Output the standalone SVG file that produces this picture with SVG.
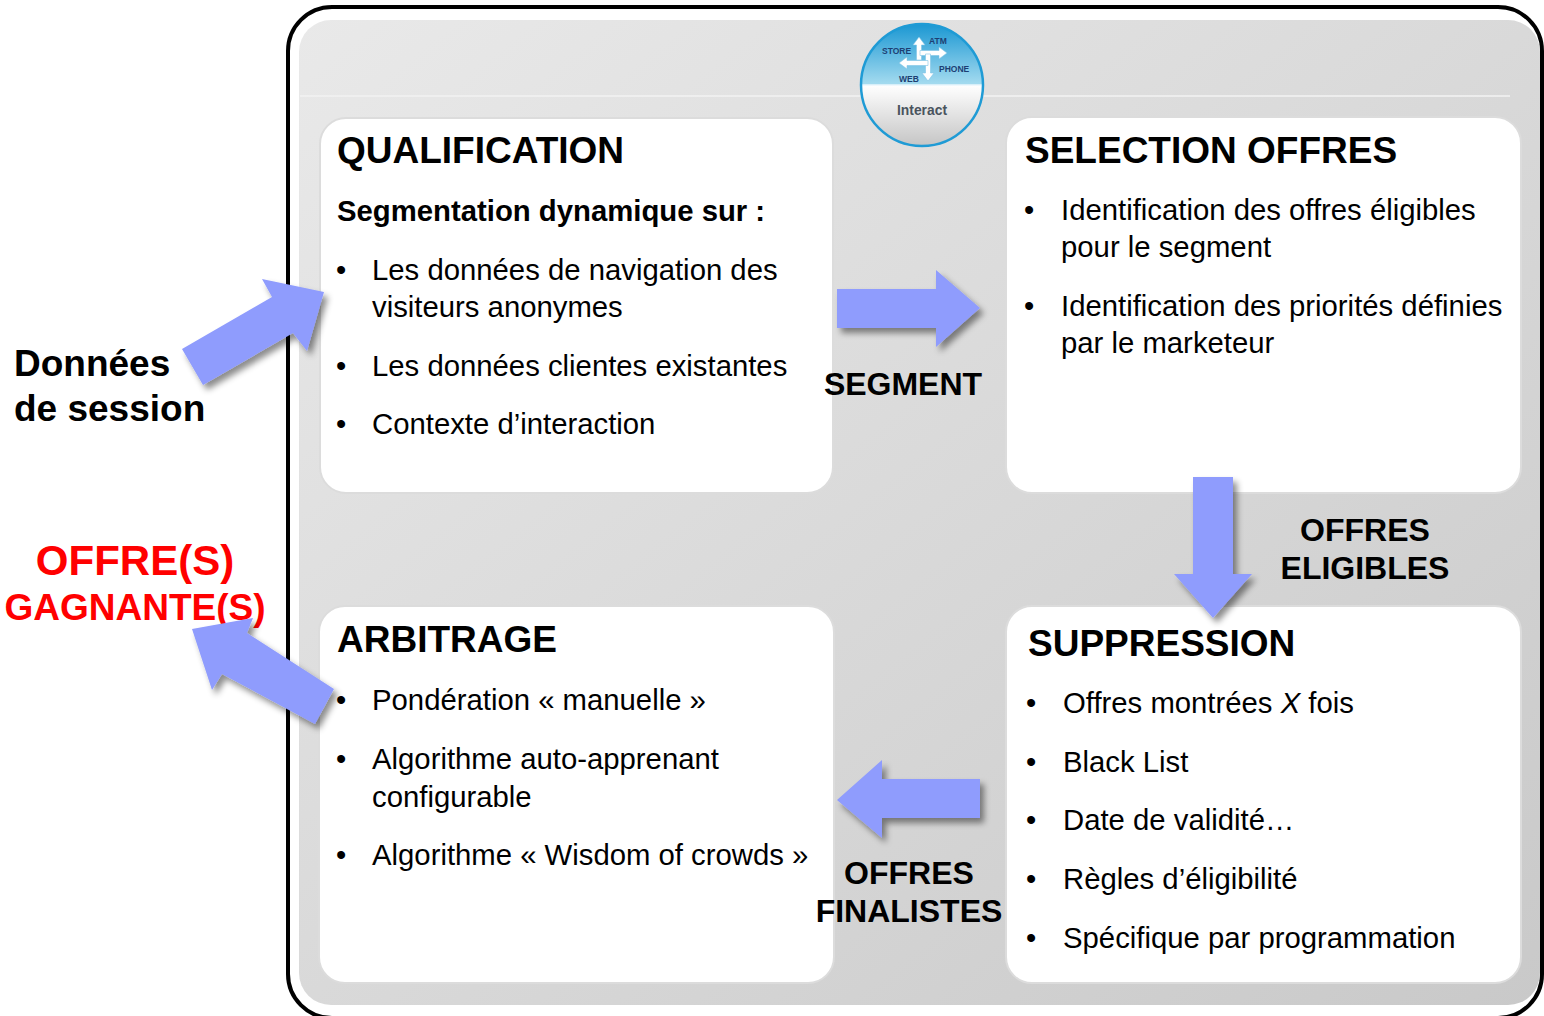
<svg xmlns="http://www.w3.org/2000/svg" width="1544" height="1016" viewBox="0 0 1544 1016">
<defs>
<linearGradient id="panel" x1="0" y1="0" x2="1" y2="1">
<stop offset="0" stop-color="#e9e9e9"/>
<stop offset="1" stop-color="#c9c9c9"/>
</linearGradient>
<linearGradient id="logoTop" x1="0" y1="0" x2="0" y2="1">
<stop offset="0" stop-color="#1896d2"/>
<stop offset="1" stop-color="#a6dcf0"/>
</linearGradient>
<linearGradient id="logoBot" x1="0" y1="0" x2="0" y2="1">
<stop offset="0" stop-color="#ffffff"/>
<stop offset="1" stop-color="#c4c4c4"/>
</linearGradient>
<clipPath id="logoClip"><circle cx="922" cy="85" r="61"/></clipPath>
<filter id="sh" x="-20%" y="-20%" width="150%" height="150%">
<feDropShadow dx="4" dy="5" stdDeviation="3" flood-color="#000" flood-opacity="0.45"/>
</filter>
</defs>
<style>
.card{fill:#ffffff;stroke:#dcdcdc;stroke-width:2}
.arrow{fill:#8f9cfd;filter:url(#sh)}
.h{font-family:"Liberation Sans",Arial,sans-serif;font-weight:bold;font-size:37px;fill:#000}
.t{font-family:"Liberation Sans",Arial,sans-serif;font-size:29.3px;fill:#000}
.b{font-family:"Liberation Sans",Arial,sans-serif;font-size:29.3px;font-weight:bold;fill:#000}
.lbl{font-family:"Liberation Sans",Arial,sans-serif;font-size:32px;font-weight:bold;fill:#000;text-anchor:middle}
.side{font-family:"Liberation Sans",Arial,sans-serif;font-size:37px;font-weight:bold;fill:#000}
.red{font-family:"Liberation Sans",Arial,sans-serif;font-weight:bold;fill:#ff0000;text-anchor:middle}
.lg{font-family:"Liberation Sans",Arial,sans-serif;font-weight:bold;font-size:8.5px;fill:#1d3f73}
</style>
<rect x="0" y="0" width="1544" height="1016" fill="#ffffff"/>
<g id="frame">
<rect x="288" y="7" width="1254" height="1011" rx="44" fill="#ffffff" stroke="#000" stroke-width="4"/>
<rect x="299" y="20" width="1241" height="985" rx="32" fill="url(#panel)"/>
<line x1="300" y1="96" x2="1510" y2="96" stroke="#f2f2f2" stroke-width="2" opacity="0.8"/>
</g>
<g id="logo">
<g clip-path="url(#logoClip)">
<rect x="860" y="23" width="124" height="62" fill="url(#logoTop)"/>
<rect x="860" y="85" width="124" height="62" fill="url(#logoBot)"/>
<line x1="860" y1="85" x2="984" y2="85" stroke="#e8f6fc" stroke-width="1.5"/>
</g>
<circle cx="922" cy="85" r="61" fill="none" stroke="#1f9bd5" stroke-width="2.5"/>
<g fill="#ffffff" stroke="#7fc4e6" stroke-width="0.6">
<polygon points="919,37 925,45 921.5,45 921.5,60 916.5,60 916.5,45 913,45"/>
<polygon points="947,53 939,59 939,55.5 920,55.5 920,50.5 939,50.5 939,47"/>
<polygon points="928,81 922,73 925.5,73 925.5,54 930.5,54 930.5,73 934,73"/>
<polygon points="899,63 907,57 907,60.5 928,60.5 928,65.5 907,65.5 907,69"/>
</g>
<text class="lg" x="882" y="54">STORE</text>
<text class="lg" x="929" y="44">ATM</text>
<text class="lg" x="939" y="72">PHONE</text>
<text class="lg" x="899" y="82">WEB</text>
<text x="922" y="115" text-anchor="middle" font-family="'Liberation Sans',Arial,sans-serif" font-weight="bold" font-size="14" fill="#4a545e" textLength="50" lengthAdjust="spacingAndGlyphs">Interact</text>
</g>
<g id="qualification">
<rect class="card" x="320" y="118" width="513" height="375" rx="26"/>
<text class="h" x="337" y="163">QUALIFICATION</text>
<text class="b" x="337" y="221">Segmentation dynamique sur :</text>
<text class="t" x="336" y="280">•</text>
<text class="t" x="372" y="280">Les données de navigation des</text>
<text class="t" x="372" y="317">visiteurs anonymes</text>
<text class="t" x="336" y="376">•</text>
<text class="t" x="372" y="376">Les données clientes existantes</text>
<text class="t" x="336" y="434">•</text>
<text class="t" x="372" y="434">Contexte d’interaction</text>
</g>
<g id="selection">
<rect class="card" x="1006" y="117" width="515" height="376" rx="26"/>
<text class="h" x="1025" y="163">SELECTION OFFRES</text>
<text class="t" x="1024" y="220">•</text>
<text class="t" x="1061" y="220">Identification des offres éligibles</text>
<text class="t" x="1061" y="257">pour le segment</text>
<text class="t" x="1024" y="316">•</text>
<text class="t" x="1061" y="316">Identification des priorités définies</text>
<text class="t" x="1061" y="353">par le marketeur</text>
</g>
<g id="arbitrage">
<rect class="card" x="319" y="606" width="515" height="377" rx="26"/>
<text class="h" x="337" y="652">ARBITRAGE</text>
<text class="t" x="336" y="710">•</text>
<text class="t" x="372" y="710">Pondération « manuelle »</text>
<text class="t" x="336" y="769">•</text>
<text class="t" x="372" y="769">Algorithme auto-apprenant</text>
<text class="t" x="372" y="807">configurable</text>
<text class="t" x="336" y="865">•</text>
<text class="t" x="372" y="865">Algorithme « Wisdom of crowds »</text>
</g>
<g id="suppression">
<rect class="card" x="1006" y="606" width="515" height="377" rx="26"/>
<text class="h" x="1028" y="656">SUPPRESSION</text>
<text class="t" x="1026" y="713">•</text>
<text class="t" x="1063" y="713">Offres montrées <tspan font-style="italic">X</tspan> fois</text>
<text class="t" x="1026" y="772">•</text>
<text class="t" x="1063" y="772">Black List</text>
<text class="t" x="1026" y="830">•</text>
<text class="t" x="1063" y="830">Date de validité…</text>
<text class="t" x="1026" y="889">•</text>
<text class="t" x="1063" y="889">Règles d’éligibilité</text>
<text class="t" x="1026" y="948">•</text>
<text class="t" x="1063" y="948">Spécifique par programmation</text>
</g>
<g id="session">
<text class="side" x="14" y="376">Données</text>
<text class="side" x="14" y="421">de session</text>
</g>
<g id="gagnante">
<text class="red" x="135" y="575" font-size="42">OFFRE(S)</text>
<text class="red" x="135" y="620" font-size="37">GAGNANTE(S)</text>
</g>
<g id="connectors">
<polygon class="arrow" points="182,349 272,297 262,279 324,292 307,351 293,333 203,385"/>
<polygon class="arrow" points="837,289 936,289 936,270 980,308 936,347 936,328 837,328"/>
<polygon class="arrow" points="1193,477 1233,477 1233,574 1252,574 1213,618 1174,574 1193,574"/>
<polygon class="arrow" points="980,779 882,779 882,760 837,800 882,838 882,818 980,818"/>
<polygon class="arrow" points="334,689 247,633 253,618 192,629 212,690 222,674 315,724"/>
<text class="lbl" x="903" y="395">SEGMENT</text>
<text class="lbl" x="1365" y="541">OFFRES</text>
<text class="lbl" x="1365" y="579">ELIGIBLES</text>
<text class="lbl" x="909" y="884">OFFRES</text>
<text class="lbl" x="909" y="922">FINALISTES</text>
</g>
</svg>
